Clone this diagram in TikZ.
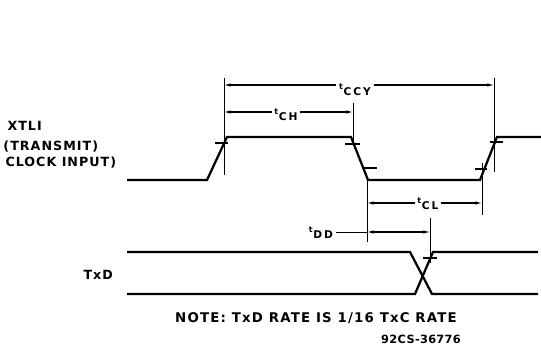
\documentclass[tikz,border=0pt]{standalone}
\usepackage{fontspec}
\setmainfont{DejaVu Sans}
\newfontfamily\tdfont[LetterSpace=8]{DejaVu Sans Bold}
\newfontfamily\lblfont[LetterSpace=18]{DejaVu Sans Bold}
\newfontfamily\notefont[LetterSpace=9]{DejaVu Sans Bold}
\newfontfamily\codefont[LetterSpace=3]{DejaVu Sans Bold}
\usetikzlibrary{arrows.meta}

\tikzset{every picture/.style={line width=0.75pt}}
\tikzset{
	wave/.style={line width=1.7pt},
	tick/.style={line width=0.9pt},
	extline/.style={line width=0.75pt},
	dimarrow/.style={line width=0.8pt,{Latex[length=5pt,width=2.6pt]}-{Latex[length=5pt,width=2.6pt]}},
	lbl/.style={fill=white,inner sep=2pt,anchor=base,font=\lblfont\fontsize{8}{9}\selectfont},
	txt/.style={inner sep=0pt,anchor=west,font=\tdfont\fontsize{9.5}{10}\selectfont}
}
\newcommand{\tpar}[1]{\raisebox{4.5pt}{\fontsize{6}{6}\selectfont t}\kern0.5pt#1}

\begin{document}
\begin{tikzpicture}[x=0.75pt,y=0.75pt,yscale=-1,xscale=1]
		\useasboundingbox (0,0) rectangle (541,349);
		
		%Clock waveform
		\coordinate (ck0) at (127,180);
		\coordinate (ck1) at (207,180);
		\coordinate (ck2) at (227,137);
		\coordinate (ck3) at (351,137);
		\coordinate (ck4) at (368,180);
		\coordinate (ck5) at (480,180);
		\coordinate (ck6) at (497,137);
		\coordinate (ck7) at (541,137);
		\draw [wave] (ck0) -- (ck1) -- (ck2) -- (ck3) -- (ck4) -- (ck5) -- (ck6) -- (ck7);
		
		%TxD waveform
		\coordinate (da0) at (127,252);
		\coordinate (da1) at (410,252);
		\coordinate (da2) at (432,294);
		\coordinate (da3) at (538,294);
		\coordinate (db0) at (127,294);
		\coordinate (db1) at (415,294);
		\coordinate (db2) at (433,252);
		\coordinate (db3) at (538,252);
		\draw [wave] (da0) -- (da1) -- (da2) -- (da3);
		\draw [wave] (db0) -- (db1) -- (db2) -- (db3);
		
		%Ticks
		\draw [tick] (215,143) -- (228,143);
		\draw [tick] (345,144) -- (360,144);
		\draw [tick] (363,168) -- (377,168);
		\draw [tick] (475,169) -- (487,169);
		\draw [tick] (490,142) -- (503,142);
		\draw [tick] (423,258) -- (437,258);
		
		%Extension lines
		\draw [extline] (224,78) -- (224,175);
		\draw [extline] (353,103) -- (353,146);
		\draw [extline] (494,78) -- (494,172);
		\draw [extline] (367,180) -- (367,242);
		\draw [extline] (482,163) -- (482,215);
		\draw [extline] (430,218) -- (430,263);
		
		%Dimension arrows
		\coordinate (ccyL) at (224,85);
		\coordinate (ccyR) at (494,85);
		\coordinate (chL) at (224,112);
		\coordinate (chR) at (353,112);
		\coordinate (clL) at (367,203);
		\coordinate (clR) at (482,203);
		\coordinate (ddL) at (367,232);
		\coordinate (ddR) at (430,232);
		\draw [dimarrow] (ccyL) -- (ccyR);
		\draw [dimarrow] (chL) -- (chR);
		\draw [dimarrow] (clL) -- (clR);
		\draw [dimarrow] (ddL) -- (ddR);
		
		% Text Node
		\node [lbl] (tccy) at (355,96) {\tpar{CCY}};
		\node [lbl] (tch) at (286,120) {\tpar{CH}};
		\node [lbl] (tcl) at (428,209) {\tpar{CL}};
		\node [lbl] (tdd) at (321,238) {\tpar{DD}};
		\draw [extline] (tdd.east |- ddL) -- (ddL);
		
		% Text Node
		\node [txt] (xtli) at (7,126) {XTLI};
		\node [txt] (trans) at (3,147) {(TRANSMIT)};
		\node [txt] (clkin) at (5,163) {CLOCK INPUT)};
		\node [txt] (txd) at (83,275) {TxD};
		% Text Node
		\node [inner sep=0pt,font=\notefont\fontsize{10}{11}\selectfont] (note) at (316,318) {NOTE: TxD RATE IS 1/16 TxC RATE};
		\node [inner sep=0pt,font=\codefont\fontsize{8.5}{9}\selectfont] (code) at (421,339) {92CS-36776};
		
	\end{tikzpicture}
\end{document}
